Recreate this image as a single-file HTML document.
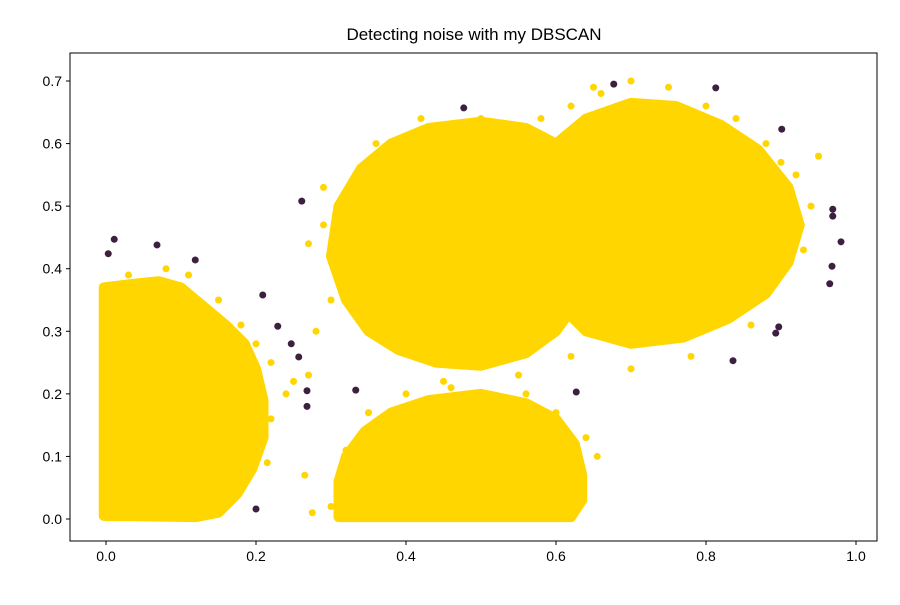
<!DOCTYPE html>
<html><head><meta charset="utf-8"><style>
body{margin:0;background:#fff}
svg{font-family:"Liberation Sans",sans-serif}
</style></head><body>
<svg width="900" height="600" xmlns="http://www.w3.org/2000/svg">
<rect width="900" height="600" fill="#fff"/>
<text x="474" y="40" font-size="17" text-anchor="middle">Detecting noise with my DBSCAN</text>
<g id="plot"></g>
<rect x="70" y="53" width="807" height="488" fill="none" stroke="#000" stroke-width="1"/>
<g id="axes"></g>
</svg>
<script>
const xTicks=[0.0,0.2,0.4,0.6,0.8,1.0];
const xTickLabels=["0.0","0.2","0.4","0.6","0.8","1.0"];
const yTicks=[0.0,0.1,0.2,0.3,0.4,0.5,0.6,0.7];
const yTickLabels=["0.0","0.1","0.2","0.3","0.4","0.5","0.6","0.7"];
const cluster1=[[-0.003,0.005],[-0.003,0.37],[0.03,0.375],[0.07,0.38],[0.1,0.37],[0.13,0.34],[0.16,0.31],[0.185,0.28],[0.2,0.24],[0.21,0.19],[0.21,0.13],[0.195,0.08],[0.175,0.04],[0.15,0.01],[0.12,0.003]];
const cluster2=[[0.31,0.003],[0.31,0.06],[0.32,0.1],[0.345,0.14],[0.38,0.17],[0.43,0.19],[0.5,0.2],[0.56,0.185],[0.6,0.16],[0.625,0.12],[0.635,0.07],[0.635,0.03],[0.62,0.003]];
const cluster3=[[0.3,0.42],[0.31,0.5],[0.34,0.56],[0.38,0.6],[0.43,0.625],[0.5,0.635],[0.56,0.625],[0.6,0.6],[0.63,0.56],[0.64,0.5],[0.64,0.42],[0.63,0.35],[0.6,0.3],[0.56,0.265],[0.5,0.245],[0.44,0.25],[0.39,0.27],[0.35,0.3],[0.32,0.35]];
const cluster4=[[0.56,0.47],[0.57,0.54],[0.6,0.6],[0.64,0.64],[0.7,0.665],[0.76,0.66],[0.82,0.63],[0.87,0.59],[0.91,0.53],[0.925,0.47],[0.91,0.41],[0.88,0.36],[0.83,0.32],[0.77,0.29],[0.7,0.28],[0.64,0.3],[0.59,0.36],[0.565,0.41]];
const strayX=[0.03,0.08,0.11,0.15,0.18,0.2,0.22,0.24,0.25,0.27,0.28,0.3,0.29,0.27,0.29,0.36,0.42,0.5,0.58,0.62,0.65,0.66,0.7,0.75,0.8,0.84,0.88,0.9,0.92,0.94,0.93,0.95,0.86,0.78,0.7,0.62,0.4,0.35,0.46,0.56,0.6,0.64,0.655,0.265,0.275,0.22,0.215,0.17,0.3,0.32,0.45,0.55,0.85,0.9];
const strayY=[0.39,0.4,0.39,0.35,0.31,0.28,0.25,0.2,0.22,0.23,0.3,0.35,0.47,0.44,0.53,0.6,0.64,0.64,0.64,0.66,0.69,0.68,0.7,0.69,0.66,0.64,0.6,0.57,0.55,0.5,0.43,0.58,0.31,0.26,0.24,0.26,0.2,0.17,0.21,0.2,0.17,0.13,0.1,0.07,0.01,0.16,0.09,0.05,0.02,0.11,0.22,0.23,0.36,0.4];
const noiseX=[0.003,0.011,0.068,0.119,0.209,0.2,0.229,0.247,0.257,0.261,0.268,0.268,0.333,0.477,0.627,0.677,0.813,0.901,0.897,0.893,0.836,0.969,0.969,0.98,0.968,0.965];
const noiseY=[0.424,0.447,0.438,0.414,0.358,0.016,0.308,0.28,0.259,0.508,0.205,0.18,0.206,0.657,0.203,0.695,0.689,0.623,0.307,0.297,0.253,0.495,0.484,0.443,0.404,0.376];
const NS="http://www.w3.org/2000/svg";
const sx=v=>106+v*750, sy=v=>519-v*625.7;
const plot=document.getElementById('plot'), axes=document.getElementById('axes');
const GOLD="#ffd600";
function mk(t,a,p){const e=document.createElementNS(NS,t);for(const k in a)e.setAttribute(k,a[k]);p.appendChild(e);return e;}
[cluster1,cluster2,cluster3,cluster4].forEach((c,i)=>{
  const e=mk('polygon',{points:c.map(p=>sx(p[0])+','+sy(p[1])).join(' '),fill:GOLD,stroke:GOLD,'stroke-width':10,'stroke-linejoin':'round'},plot);
  
  
});
strayX.forEach((x,i)=>{
  const e=mk('circle',{cx:sx(x),cy:sy(strayY[i]),r:3.5,fill:GOLD},plot);
  
  
});
noiseX.forEach((x,i)=>{
  const e=mk('circle',{cx:sx(x),cy:sy(noiseY[i]),r:3.5,fill:"#3d1f40"},plot);
  
  
});
xTicks.forEach((v,i)=>{
  const l=mk('line',{x1:sx(v),x2:sx(v),y1:541,y2:545,stroke:'#000'},axes);
  
  
  const t=mk('text',{x:sx(v),y:561,'font-size':14,'text-anchor':'middle'},axes);
  t.textContent=xTickLabels[i];
  
  
});
yTicks.forEach((v,i)=>{
  const l=mk('line',{x1:66,x2:70,y1:sy(v),y2:sy(v),stroke:'#000'},axes);
  
  
  const t=mk('text',{x:62,y:sy(v)+5,'font-size':14,'text-anchor':'end'},axes);
  t.textContent=yTickLabels[i];
  
  
});
</script>
</body></html>
